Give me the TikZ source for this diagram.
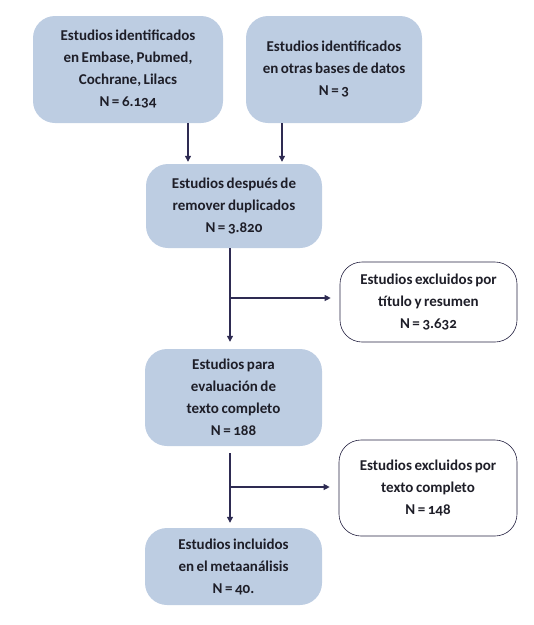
\documentclass[tikz,border=0pt]{standalone}
\usepackage{fontspec}
\setmainfont{Carlito}[Numbers=OldStyle,WordSpace=0.75]
\usetikzlibrary{arrows.meta,calc}
\definecolor{boxblue}{HTML}{BDCDE2}
\definecolor{navy}{HTML}{2E2B52}
\definecolor{txt}{HTML}{1E1E28}
\tikzset{
  base/.style={rounded corners=22pt, align=center, font=\bfseries\fontsize{15}{22}\selectfont, text=txt, inner sep=2pt},
  bluebox/.style={base, fill=boxblue, draw=none},
  whitebox/.style={base, fill=white, draw=navy!80!black, line width=0.6pt},
  arr/.style={draw=navy, line width=1.1pt, -{Triangle[length=6pt,width=6pt]}},
  ln/.style={draw=navy, line width=1.1pt}
}
\begin{document}
\begin{tikzpicture}[x=1pt,y=-1pt]
\useasboundingbox (0,0) rectangle (534,625);
\node[bluebox, minimum width=190pt, minimum height=107pt] (b1) at (128,69.5) {Estudios identificados\\en Embase, Pubmed,\\Cochrane, Lilacs\\N = 6.134};
\node[bluebox, minimum width=176pt, minimum height=107pt] (b2) at (334,69.5) {Estudios identificados\\en otras bases de datos\\N = 3};
\node[bluebox, minimum width=176pt, minimum height=84pt] (b3) at (234,206) {Estudios después de\\remover duplicados\\N = 3.820};
\node[whitebox, minimum width=177pt, minimum height=80pt] (b4) at (428.5,302) {Estudios excluidos por\\título y resumen\\N = 3.632};
\node[bluebox, minimum width=177pt, minimum height=97pt] (b5) at (233.5,397.5) {Estudios para\\evaluación de\\texto completo\\N = 188};
\node[whitebox, minimum width=178pt, minimum height=96pt] (b6) at (428,488) {Estudios excluidos por\\texto completo\\N = 148};
\node[bluebox, minimum width=177pt, minimum height=77pt] (b7) at (233.5,566.5) {Estudios incluidos\\en el metaanálisis\\N = 40.};
\coordinate (x1) at (188,0);
\coordinate (x2) at (282,0);
\coordinate (xm) at (230,0);
\coordinate (j1) at (230,298);
\coordinate (j2) at (230,487);
\draw[arr] (b1.south -| x1) -- ($(b3.north -| x1)+(0,-2)$);
\draw[arr] (b2.south -| x2) -- ($(b3.north -| x2)+(0,-2)$);
\draw[arr] (b3.south -| xm) -- ($(b5.north -| xm)+(0,-7)$);
\draw[arr, shorten >=9pt] (j1) -- (b4.west |- j1);
\draw[arr] ($(b5.south -| xm)+(0,7)$) -- ($(b7.north -| xm)+(0,-5)$);
\draw[arr, shorten >=9pt] (j2) -- (b6.west |- j2);
\end{tikzpicture}
\end{document}
